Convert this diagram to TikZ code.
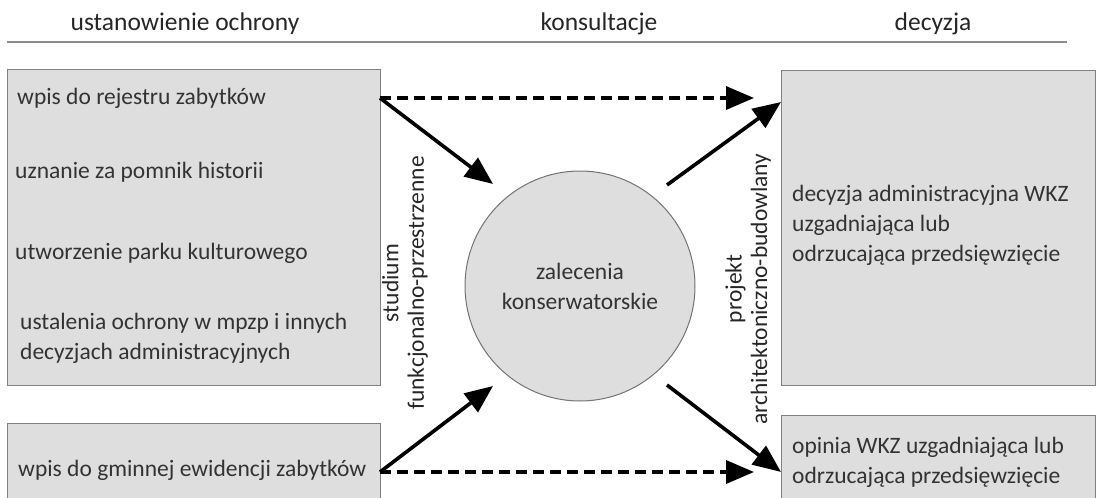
\documentclass[tikz,border=0pt]{standalone}
\usepackage{fontspec}
\setmainfont{Carlito}
\usetikzlibrary{arrows.meta}
\begin{document}
\begin{tikzpicture}[x=1pt, y=-1pt, font=\fontsize{23.5}{30}\selectfont]
    % Styles
    \tikzstyle{grey box}=[draw=black!50, fill=black!13, line width=1.2pt, inner sep=0pt, anchor=north west]
    \tikzstyle{item}=[anchor=west, inner sep=0pt, text=black!80]
    \tikzstyle{head}=[inner sep=0pt, text=black!85, font=\fontsize{25.5}{30}\selectfont]
    \tikzstyle{side}=[inner sep=0pt, text=black!85, rotate=90, align=center, font=\fontsize{23.5}{25.5}\selectfont]
    \tikzstyle{link}=[line width=3.6pt, -{Triangle[length=28pt, width=23pt]}]
    \tikzstyle{dashed link}=[link, dash pattern=on 11pt off 6pt]

    \clip (0,0) rectangle (1096,498);
    \useasboundingbox (0,0) rectangle (1096,498);

    % --- Header ---
    \node[head] (h_left) at (185,24) {ustanowienie ochrony};
    \node[head] (h_mid) at (599,24) {konsultacje};
    \node[head] (h_right) at (933,24) {decyzja};
    \draw[black!45, line width=1.2pt] (7,42) -- (1067,42);

    % --- Left: protection forms ---
    \node[grey box, minimum width=373pt, minimum height=316pt] (box_reg) at (7,69) {};
    \node[grey box, minimum width=373pt, minimum height=100pt] (box_gez) at (7,423) {};

    \node[item] (t_reg) at (17,98) {wpis do rejestru zabytków};
    \node[item] (t_pom) at (15,172) {uznanie za pomnik historii};
    \node[item] (t_park) at (15,253) {utworzenie parku kulturowego};
    \node[item, align=left] (t_mpzp) at (20,338) {ustalenia ochrony w mpzp i innych\\decyzjach administracyjnych};
    \node[item] (t_gez) at (18,470) {wpis do gminnej ewidencji zabytków};

    % --- Middle: consultation ---
    \node[circle, draw=black!55, fill=black!13, line width=1pt, minimum size=230pt, inner sep=0pt,
          align=center, text=black!80] (zal) at (580,286) {zalecenia\\konserwatorskie};

    \node[side] (studium) at (405,283) {studium\\funkcjonalno-przestrzenne};
    \node[side] (projekt) at (748,289) {projekt\\architektoniczno-budowlany};

    % --- Right: decisions ---
    \node[grey box, minimum width=314pt, minimum height=315pt] (box_dec) at (781,70) {};
    \node[grey box, minimum width=314pt, minimum height=100pt] (box_op) at (781,415) {};

    \node[item, align=left] (t_dec) at (792,225) {decyzja administracyjna WKZ\\uzgadniająca lub\\odrzucająca przedsięwzięcie};
    \node[item, align=left] (t_op) at (792,462) {opinia WKZ uzgadniająca lub\\odrzucająca przedsięwzięcie};

    % Helper coordinates for arrow ends
    \coordinate (reg_out) at (380,98);
    \coordinate (gez_out) at (380,472);
    \coordinate (zal_in_top) at (493,184);
    \coordinate (zal_in_bot) at (493,386);
    \coordinate (zal_out_top) at (667,185);
    \coordinate (zal_out_bot) at (667,385);
    \coordinate (dec_in) at (781,102);
    \coordinate (op_in) at (781,472);
    \coordinate (dec_dash) at (754,98);
    \coordinate (op_dash) at (754,472);

    % --- Arrows ---
    \draw[dashed link] (reg_out) -- (dec_dash);
    \draw[dashed link] (gez_out) -- (op_dash);
    \draw[link] (reg_out) -- (zal_in_top);
    \draw[link] (gez_out) -- (zal_in_bot);
    \draw[link] (zal_out_top) -- (dec_in);
    \draw[link] (zal_out_bot) -- (op_in);

\end{tikzpicture}
\end{document}
